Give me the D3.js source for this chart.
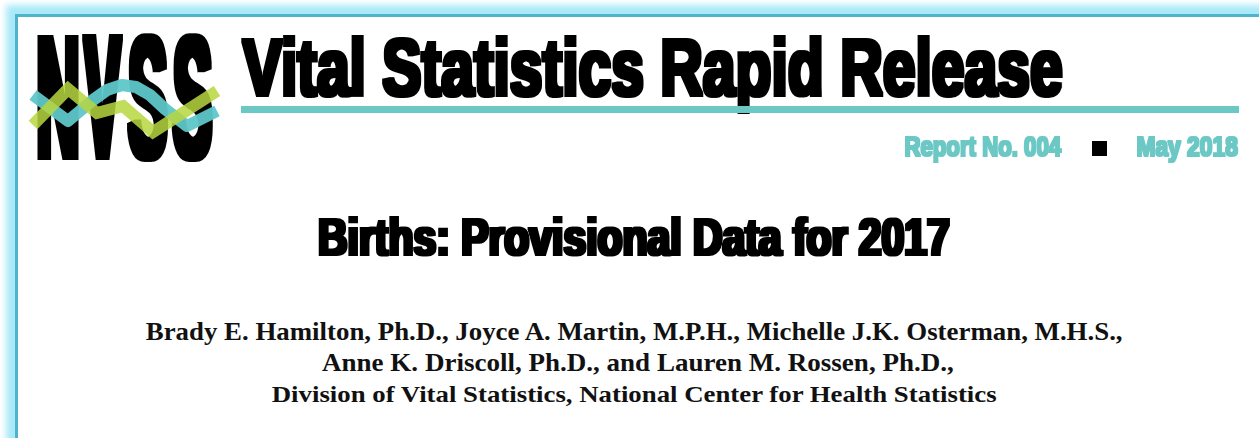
<!DOCTYPE html>
<html>
<head>
<meta charset="utf-8">
<script src="https://cdn.jsdelivr.net/npm/d3@7"></script>
<style>
html, body { margin: 0; padding: 0; background: #fff; overflow: hidden; }
svg { display: block; }
</style>
</head>
<body>
<svg id="chart" width="1259" height="438"></svg>
<script>
// --- content of the header ---
var logoText = "NVSS";
var headerTitle = "Vital Statistics Rapid Release";
var reportNo = "Report No. 004";
var reportDate = "May 2018";
var reportTitle = "Births: Provisional Data for 2017";
var authorLines = [
	"Brady E. Hamilton, Ph.D., Joyce A. Martin, M.P.H., Michelle J.K. Osterman, M.H.S.,",
	"Anne K. Driscoll, Ph.D., and Lauren M. Rossen, Ph.D.,",
	"Division of Vital Statistics, National Center for Health Statistics"
];

// logo waves, in logo units (x 0..184, y 0..130)
var tealWave = [[0, 62], [35, 88], [60, 67], [74, 57], [89, 52], [103, 54], [117, 62], [132, 76], [154, 93], [184, 78]];
var greenWave = [[0, 92], [35, 56], [64, 80], [90, 73], [120, 99], [184, 58]];

var TEAL = "#6cc8c5";
var HEAVY = "'Liberation Sans', Arial, sans-serif";
var SERIF = "'Liberation Serif', 'Times New Roman', serif";

var svg = d3.select("#chart");
var defs = svg.append("defs");

defs.append("filter")
	.attr("id", "glow")
	.attr("x", "-5%").attr("y", "-5%").attr("width", "110%").attr("height", "110%")
	.append("feGaussianBlur").attr("stdDeviation", 3);

// --- page border ---
svg.append("rect")
	.attr("x", 16).attr("y", 15)
	.attr("width", 1400).attr("height", 600)
	.attr("fill", "none")
	.attr("stroke", "#a9e9f8")
	.attr("stroke-width", 20)
	.attr("filter", "url(#glow)");

svg.append("rect")
	.attr("x", 18).attr("y", 17)
	.attr("width", 1400).attr("height", 600)
	.attr("fill", "#fff");

svg.append("rect")
	.attr("x", 16.5).attr("y", 15.5)
	.attr("width", 1400).attr("height", 600)
	.attr("fill", "none")
	.attr("stroke", "#4db4cb")
	.attr("stroke-width", 3);

// measure ink with canvas, then squeeze the text into a box
var ctx = document.createElement("canvas").getContext("2d");
var filterCount = 0;

function fitText(parent, str, o) {
	var w = o.bold || 0;
	ctx.font = o.weight + " 100px " + o.family;
	var m = ctx.measureText(str);
	var inkW = m.actualBoundingBoxLeft + m.actualBoundingBoxRight;
	var inkH = m.actualBoundingBoxAscent;
	var x0 = o.x0 + w / 2, x1 = o.x1 - w / 2,
		top = o.top + w / 2, base = o.base - w / 2;
	var sx = (x1 - x0) / inkW,
		sy = (base - top) / inkH;
	var tx = x0 + m.actualBoundingBoxLeft * sx;

	var t = parent.append("text")
		.attr("transform", "translate(" + tx + "," + base + ") scale(" + sx + "," + sy + ")")
		.attr("font-family", o.family)
		.attr("font-weight", o.weight)
		.attr("font-size", 100)
		.attr("fill", o.fill)
		.text(str);

	if (w) {
		// dilate evenly in screen pixels, whatever the scale
		var id = "thick" + (filterCount++);
		defs.append("filter")
			.attr("id", id)
			.attr("x", "-10%").attr("y", "-20%").attr("width", "120%").attr("height", "140%")
			.append("feMorphology")
			.attr("operator", "dilate")
			.attr("radius", (w / 2 / sx) + " " + (w / 2 / sy));
		t.attr("filter", "url(#" + id + ")");
	}
	return t;
}

// --- logo ---
var logo = svg.append("g").attr("class", "logo");
var logoLeft = 37, logoRight = 213, logoGap = 3;
var letterW = (logoRight - logoLeft - logoGap * (logoText.length - 1)) / logoText.length;

logoText.split("").forEach(function (ch, i) {
	var x0 = logoLeft + i * (letterW + logoGap);
	fitText(logo, ch, {
		family: HEAVY, weight: "bold", fill: "#000",
		x0: x0, x1: x0 + letterW, top: 33, base: 160, bold: 6
	});
});

var lx = d3.scaleLinear().domain([0, 184]).range([33, 217]);
var ly = d3.scaleLinear().domain([0, 130]).range([33, 163]);

var wave = d3.line()
	.x(function (d) { return lx(d[0]); })
	.y(function (d) { return ly(d[1]); });

logo.append("path")
	.attr("d", wave(tealWave))
	.attr("fill", "none")
	.attr("stroke", "#5ec6c8")
	.attr("stroke-width", 12)
	.attr("stroke-linejoin", "round")
	.attr("opacity", 0.95);

logo.append("path")
	.attr("d", wave(greenWave))
	.attr("fill", "none")
	.attr("stroke", "#b7d63f")
	.attr("stroke-width", 12)
	.attr("stroke-linejoin", "miter")
	.attr("opacity", 0.85);

// --- masthead ---
var head = svg.append("g").attr("class", "masthead");

fitText(head, headerTitle, {
	family: HEAVY, weight: "bold", fill: "#000",
	x0: 241, x1: 1063, top: 35, base: 97, bold: 3.5
});

head.append("rect")
	.attr("x", 241).attr("y", 106)
	.attr("width", 1239 - 241).attr("height", 7)
	.attr("fill", TEAL);

fitText(head, reportNo, {
	family: HEAVY, weight: "bold", fill: TEAL,
	x0: 905, x1: 1062, top: 136, base: 157, bold: 1.5
});

head.append("rect")
	.attr("x", 1092).attr("y", 141)
	.attr("width", 15).attr("height", 15)
	.attr("fill", "#000");

fitText(head, reportDate, {
	family: HEAVY, weight: "bold", fill: TEAL,
	x0: 1137, x1: 1238, top: 136, base: 157, bold: 1.5
});

// --- report title ---
fitText(svg, reportTitle, {
	family: HEAVY, weight: "bold", fill: "#000",
	x0: 319, x1: 950, top: 215, base: 256, bold: 3
});

// --- authors ---
var authorBoxes = [
	{ x0: 146, x1: 1124, top: 322, base: 339.5 },
	{ x0: 322, x1: 953, top: 354, base: 371 },
	{ x0: 272, x1: 998, top: 385, base: 402 }
];

authorLines.forEach(function (line, i) {
	var b = authorBoxes[i];
	fitText(svg, line, {
		family: SERIF, weight: "bold", fill: "#111",
		x0: b.x0, x1: b.x1, top: b.top, base: b.base
	});
});
</script>
</body>
</html>
